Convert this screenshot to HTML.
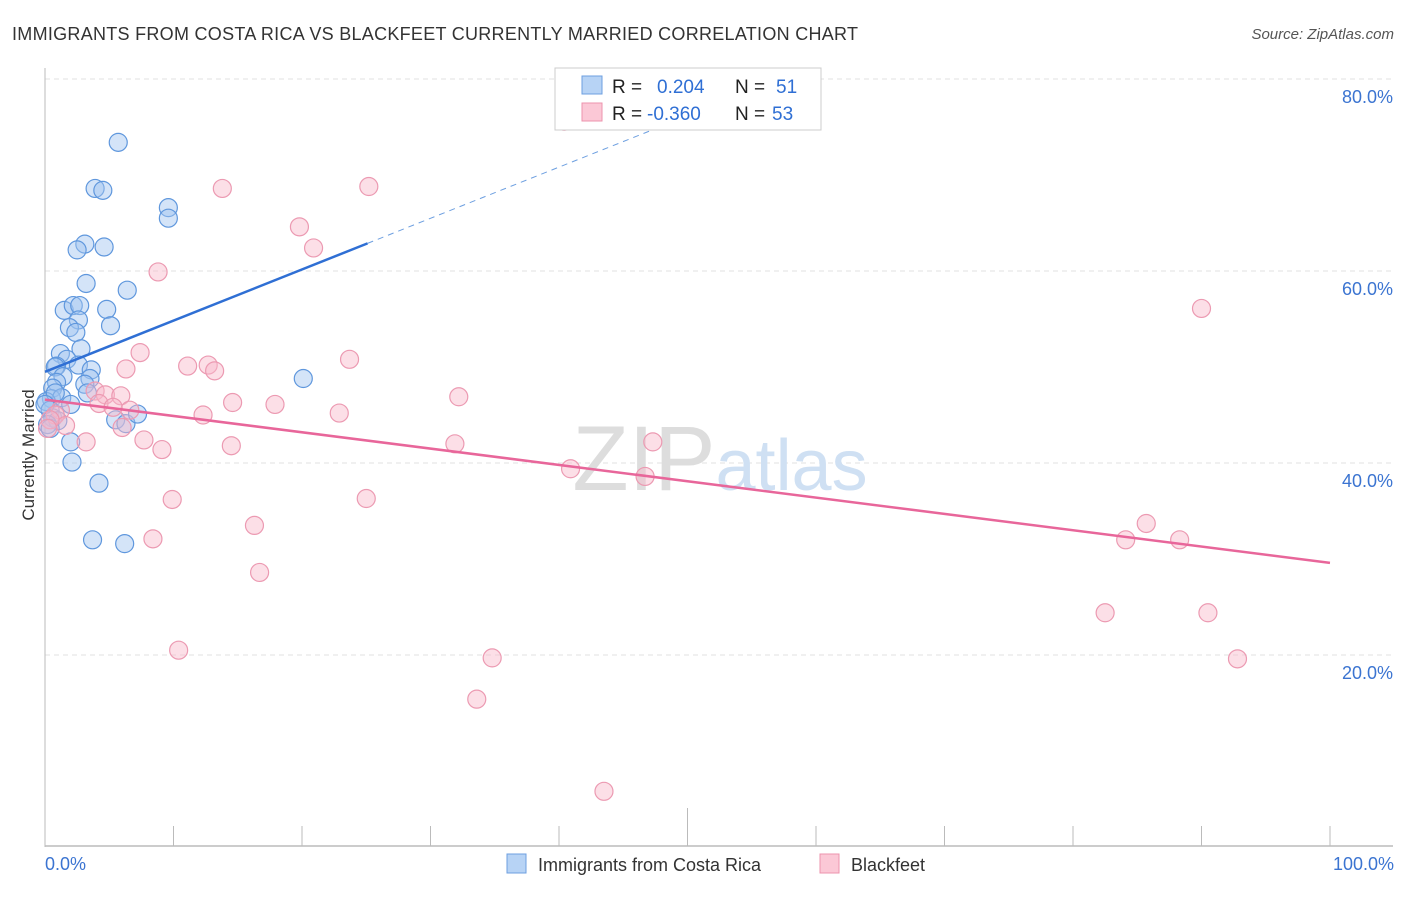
<!DOCTYPE html>
<html><head><meta charset="utf-8"><style>
body{margin:0;background:#fff;font-family:"Liberation Sans",sans-serif;}
svg text{font-family:"Liberation Sans",sans-serif;}
</style></head><body>
<svg id="chart" width="1406" height="892">
<text x="12" y="40" font-size="18" fill="#333" textLength="846">IMMIGRANTS FROM COSTA RICA VS BLACKFEET CURRENTLY MARRIED CORRELATION CHART</text>
<text x="1394" y="39" font-size="15" fill="#555" font-style="italic" text-anchor="end">Source: ZipAtlas.com</text>
<text x="34" y="455" font-size="17" fill="#333" text-anchor="middle" transform="rotate(-90 34 455)">Currently Married</text>
<g id="grid"></g>
<text x="720" y="490" font-size="92" fill="#ddd" text-anchor="middle" font-family="Liberation Serif">ZIP<tspan fill="#cfe0f3" font-family="Liberation Sans" font-size="72">atlas</tspan></text>
<g id="pts"></g>
<g id="lines"></g>
<g>
<rect x="555" y="68" width="266" height="62" fill="#fff" stroke="#ccc"/>
<rect x="582" y="76" width="20" height="18" fill="#b7d3f5" stroke="#6d9fe0"/>
<rect x="582" y="103" width="20" height="18" fill="#fbc8d6" stroke="#ec93ad"/>
<text x="612" y="93" font-size="19" fill="#222">R = <tspan x="657" fill="#2f6fd4">0.204</tspan><tspan x="735">N = </tspan><tspan x="776" fill="#2f6fd4">51</tspan></text>
<text x="612" y="120" font-size="19" fill="#222">R = <tspan x="647" fill="#2f6fd4">-0.360</tspan><tspan x="735">N = </tspan><tspan x="772" fill="#2f6fd4">53</tspan></text>
</g>
<text x="45" y="870" font-size="18" fill="#3b74d1">0.0%</text>
<text x="1394" y="870" font-size="18" fill="#3b74d1" text-anchor="end">100.0%</text>
<g>
<rect x="507" y="854" width="19" height="19" fill="#b7d3f5" stroke="#6d9fe0"/>
<text x="538" y="871" font-size="18" fill="#333">Immigrants from Costa Rica</text>
<rect x="820" y="854" width="19" height="19" fill="#fbc8d6" stroke="#ec93ad"/>
<text x="851" y="871" font-size="18" fill="#333">Blackfeet</text>
</g>
</svg>
<script>
const yTicks=[20,40,60,80];
const xTickCount=10;
const blueX=[5.7,3.9,4.5,9.6,9.6,3.1,2.5,4.6,3.2,6.4,1.5,2.2,2.7,4.8,2.6,1.9,2.4,5.1,2.8,1.2,1.7,0.9,0.8,2.6,3.6,3.5,1.4,0.9,20.1,0.6,3.1,3.3,0.5,1.3,0.1,2.0,0.4,0.6,1.0,0.2,5.5,6.3,7.2,2.0,2.1,4.2,3.7,6.2,0.8,0.4,0.0];
const blueY=[73.4,68.6,68.4,66.6,65.5,62.8,62.2,62.5,58.7,58.0,55.9,56.4,56.4,56.0,54.9,54.1,53.6,54.3,51.9,51.4,50.8,50.1,50.0,50.2,49.7,48.8,49.0,48.4,48.8,47.8,48.2,47.3,46.7,46.8,46.4,46.1,45.5,44.7,44.4,44.0,44.5,44.1,45.1,42.2,40.1,37.9,32.0,31.6,47.3,43.6,46.1];
const pinkX=[40.4,13.8,25.2,19.8,20.9,8.8,90.0,7.4,23.7,6.3,11.1,12.7,13.2,3.9,4.7,5.9,4.2,17.9,14.6,32.2,6.6,12.3,22.9,5.3,6.0,3.2,7.7,9.1,14.5,31.9,47.3,40.9,46.7,9.9,25.0,16.3,85.7,84.1,88.3,8.4,16.7,82.5,90.5,10.4,34.8,92.8,33.6,43.5,1.2,0.8,1.6,0.4,0.2];
const pinkY=[75.6,68.6,68.8,64.6,62.4,59.9,56.1,51.5,50.8,49.8,50.1,50.2,49.6,47.5,47.1,47.0,46.2,46.1,46.3,46.9,45.5,45.0,45.2,45.8,43.7,42.2,42.4,41.4,41.8,42.0,42.2,39.4,38.6,36.2,36.3,33.5,33.7,32.0,32.0,32.1,28.6,24.4,24.4,20.5,19.7,19.6,15.4,5.8,45.5,45.0,43.9,44.5,43.6];
const blueLine=[49.5,0.533];
const blueLineEnd=25.1;
const pinkLine=[46.6,-0.17];
const X=v=>45+v*12.85, Y=v=>847-v*9.6;
const ns='http://www.w3.org/2000/svg';
function mk(t,a,p){const e=document.createElementNS(ns,t);for(const k in a)e.setAttribute(k,a[k]);p.appendChild(e);return e;}
const g=document.getElementById('grid');
yTicks.forEach(v=>{
 const l=mk('line',{x1:45,x2:1393,y1:Y(v),y2:Y(v),stroke:'#e2e2e2','stroke-dasharray':'5,4'},g);
 
 
 const t=mk('text',{x:1393,y:Y(v)+24,'font-size':18,fill:'#3b74d1','text-anchor':'end'},g);
 t.textContent=v.toFixed(1)+'%';
 
 
});
mk('line',{x1:45,x2:45,y1:68,y2:847,stroke:'#bbb'},g);
mk('line',{x1:45,x2:1393,y1:846,y2:846,stroke:'#bbb','stroke-width':1.5},g);
for(let i=0;i<=xTickCount;i++){
 const x=X(i*100/xTickCount);
 const tk=mk('line',{x1:x,x2:x,y1:i==5?808:826,y2:846,stroke:'#bbb'},g);
 
 
}
const p=document.getElementById('pts');
blueX.forEach((v,i)=>{
 const c=mk('circle',{cx:X(v),cy:Y(blueY[i]),r:9,fill:'rgba(160,196,240,0.45)',stroke:'#5f97dd','stroke-width':1.2},p);
 
 
});
pinkX.forEach((v,i)=>{
 const c=mk('circle',{cx:X(v),cy:Y(pinkY[i]),r:9,fill:'rgba(248,184,202,0.45)',stroke:'#ec9ab2','stroke-width':1.2},p);
 
 
});
const L=document.getElementById('lines');
const bx=blueLineEnd;
let e=mk('line',{x1:X(0),y1:Y(blueLine[0]),x2:X(bx),y2:Y(blueLine[0]+blueLine[1]*bx),stroke:'#2f6fd4','stroke-width':2.5},L);


e=mk('line',{x1:X(bx),y1:Y(blueLine[0]+blueLine[1]*bx),x2:X(48),y2:Y(blueLine[0]+blueLine[1]*48),stroke:'#6d9fe0','stroke-width':1,'stroke-dasharray':'6,5'},L);


e=mk('line',{x1:X(0),y1:Y(pinkLine[0]),x2:X(100),y2:Y(pinkLine[0]+pinkLine[1]*100),stroke:'#e8669a','stroke-width':2.5},L);


</script>
</body></html>
